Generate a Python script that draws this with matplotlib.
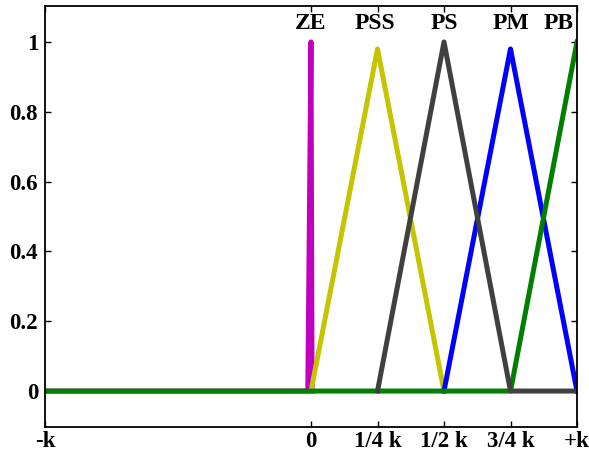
import matplotlib
matplotlib.use("Agg")
import matplotlib.pyplot as plt

# Membership functions over the normalised range [-k, +k]
ze_x = [-1.0, -0.012, 0.0, 0.004]
ze_y = [0.0, 0.0, 1.0, 0.0]

pss_x = [0.0, 0.25, 0.5]
pss_y = [0.0, 0.98, 0.0]

ps_x = [0.25, 0.5, 0.75, 1.0]
ps_y = [0.0, 1.0, 0.0, 0.0]

pm_x = [0.5, 0.75, 1.0]
pm_y = [0.0, 0.98, 0.0]

pb_x = [-1.0, 0.75, 1.0]
pb_y = [0.0, 0.0, 1.0]

set_names = ["ZE", "PSS", "PS", "PM", "PB"]
name_x = [0.0, 0.24, 0.5, 0.75, 0.93]

xtick_pos = [-1.0, 0.0, 0.25, 0.5, 0.75, 1.0]
xtick_labels = ["-k", "0", "1/4 k", "1/2 k", "3/4 k", "+k"]
ytick_pos = [0, 0.2, 0.4, 0.6, 0.8, 1.0]
ytick_labels = ["0", "0.2", "0.4", "0.6", "0.8", "1"]

plt.rcParams["font.family"] = ["Liberation Serif", "DejaVu Serif"]
plt.rcParams["font.weight"] = "bold"

fig = plt.figure(figsize=(5.89, 4.55), dpi=100)
ax = fig.add_axes([45 / 589, 1 - 427 / 455, 532 / 589, 421 / 455])

lw = 3.6
ax.plot(ze_x, ze_y, color="#c000c0", lw=lw)
ax.plot(pss_x, pss_y, color="#c4c400", lw=lw)
ax.plot(pm_x, pm_y, color="#0000ff", lw=lw)
ax.plot(pb_x, pb_y, color="#007f00", lw=lw)
ax.plot(ps_x, ps_y, color="#404040", lw=lw)

ax.set_xlim(-1.0, 1.0)
ax.set_ylim(-0.103, 1.103)

ax.set_xticks(xtick_pos)
ax.set_xticklabels(xtick_labels, fontsize=16.5, fontweight="bold")
ax.set_yticks(ytick_pos)
ax.set_yticklabels(ytick_labels, fontsize=16.5, fontweight="bold")
ax.tick_params(direction="in", length=4, width=1, top=True, right=True)
ax.tick_params(axis="x", pad=3)
ax.tick_params(axis="y", pad=5)

for name, x in zip(set_names, name_x):
    ax.text(x, 1.052, name, ha="center", va="center", fontsize=17, fontweight="bold")

for s in ax.spines.values():
    s.set_linewidth(1.3)

fig.savefig("out.png", dpi=100)
